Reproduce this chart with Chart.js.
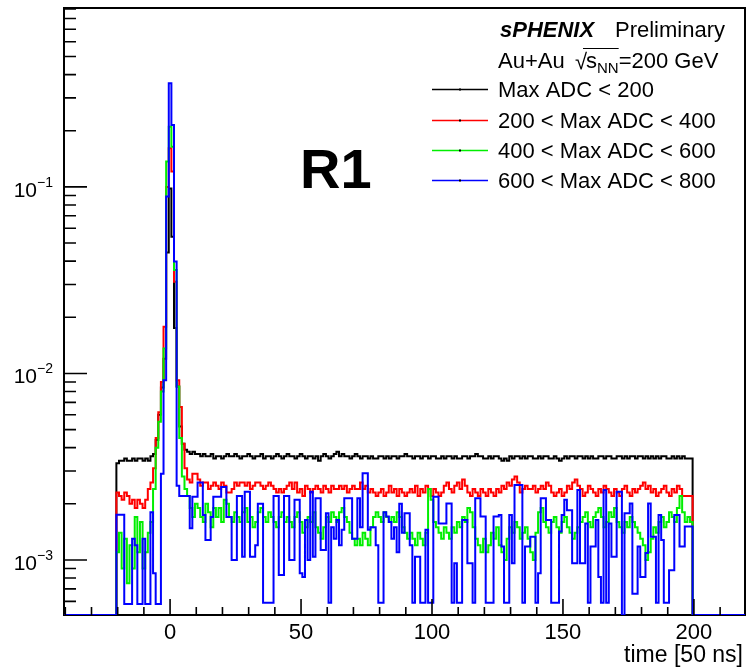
<!DOCTYPE html>
<html>
<head>
<meta charset="utf-8">
<script src="https://cdn.jsdelivr.net/npm/chart.js@4.4.1/dist/chart.umd.min.js"></script>
<style>
  html, body { margin: 0; padding: 0; background: #fff; }
</style>
</head>
<body>
<canvas id="c" width="747" height="671"></canvas>
<script>
// ---- axis setup ----
const xRange = [-40.5, 219.5];
const yRange = [5.07e-4, 0.91];
const firstBin = -20.5;     // low edge of the first filled bin (bin centre -20), 1 unit per bin
const lastEdge = 199.5;
const xTicks = [0, 50, 100, 150, 200];
const xMinorFirst = -40;
const xMinorStep = 10;
const yDecades = [1e-3, 1e-2, 1e-1];
const yExponents = ['\u22123', '\u22122', '\u22121'];

const seriesLabels = ['Max ADC < 200', '200 < Max ADC < 400', '400 < Max ADC < 600', '600 < Max ADC < 800'];
const seriesColors = ['#000000', '#ff0000', '#00ee00', '#0000ff'];

// ---- bin contents, bins -20 .. 199 ----
const maxAdc200 = [
  0.0033,0.0034,0.0034,0.0035,0.0034,0.0034,0.0035,0.0034,0.0035,0.0035,0.0034,0.0035,0.0034,0.0036,
  0.0037,0.0044,0.0060,0.0084,0.0120,0.0445,0.0980,0.0540,0.0175,0.0085,0.0052,0.0042,0.0039,0.0038,
  0.0037,0.0038,0.0037,0.0037,0.0036,0.0037,0.0036,0.0036,0.0037,0.0035,
  0.0036,0.0036,0.0035,0.0036,0.0037,0.0036,0.0036,0.0037,0.0036,0.0035,
  0.0036,0.0036,0.0037,0.0036,0.0035,0.0036,0.0036,0.0037,0.0035,0.0036,
  0.0036,0.0035,0.0036,0.0037,0.0036,0.0035,0.0036,0.0037,0.0036,0.0036,
  0.0035,0.0036,0.0037,0.0036,0.0035,0.0036,0.0036,0.0035,0.0036,0.0034,
  0.0036,0.0037,0.0036,0.0035,0.0036,0.0037,0.0038,0.0036,0.0037,0.0036,
  0.0036,0.0035,0.0036,0.0037,0.0036,0.0035,0.0036,0.0036,0.0035,0.0036,
  0.0035,0.0035,0.0036,0.0036,0.0035,0.0036,0.0035,0.0036,0.0036,0.0035,
  0.0036,0.0036,0.0037,0.0036,0.0036,0.0035,0.0036,0.0036,0.0035,0.0036,
  0.0036,0.0035,0.0036,0.0036,0.0035,0.0035,0.0036,0.0035,0.0036,0.0036,
  0.0035,0.0036,0.0035,0.0035,0.0036,0.0036,0.0035,0.0036,0.0036,0.0037,
  0.0036,0.0036,0.0035,0.0035,0.0036,0.0035,0.0036,0.0036,0.0035,0.0034,
  0.0035,0.0034,0.0036,0.0035,0.0036,0.0036,0.0035,0.0036,0.0035,0.0036,
  0.0036,0.0035,0.0035,0.0036,0.0035,0.0036,0.0036,0.0035,0.0035,0.0036,
  0.0035,0.0034,0.0035,0.0036,0.0035,0.0036,0.0036,0.0035,0.0036,0.0036,
  0.0035,0.0036,0.0035,0.0036,0.0035,0.0035,0.0036,0.0036,0.0035,0.0036,
  0.0036,0.0035,0.0035,0.0036,0.0036,0.0035,0.0036,0.0035,0.0036,0.0036,
  0.0035,0.0036,0.0036,0.0035,0.0036,0.0035,0.0036,0.0035,0.0036,0.0035,
  0.0036,0.0036,0.0035,0.0035,0.0036,0.0035,0.0036,0.0035,0.0036,0.0035,
  0.0035,0.0035
];
const maxAdc400 = [
  0.0023,0.0022,0.0021,0.0023,0.0022,0.0020,0.0021,0.0019,0.0021,0.0020,0.0019,0.0021,0.0024,0.0026,
  0.0031,0.0045,0.0062,0.0090,0.0178,0.1000,0.1610,0.1210,0.0310,0.0092,0.0066,0.0042,0.0031,0.0027,
  0.0026,0.0029,0.0029,0.0027,0.0025,0.0026,0.0026,0.0024,0.0025,0.0026,
  0.0025,0.0024,0.0026,0.0025,0.0023,0.0023,0.0024,0.0026,0.0025,0.0026,
  0.0026,0.0025,0.0026,0.0024,0.0025,0.0026,0.0026,0.0025,0.0024,0.0025,
  0.0026,0.0025,0.0024,0.0023,0.0024,0.0023,0.0024,0.0025,0.0026,0.0024,
  0.0026,0.0023,0.0024,0.0022,0.0025,0.0024,0.0023,0.0024,0.0025,0.0024,
  0.0023,0.0025,0.0024,0.0023,0.0025,0.0024,0.0024,0.0025,0.0024,0.0025,
  0.0023,0.0024,0.0025,0.0024,0.0024,0.0026,0.0024,0.0025,0.0023,0.0024,
  0.0023,0.0022,0.0023,0.0024,0.0022,0.0023,0.0025,0.0023,0.0024,0.0022,
  0.0024,0.0023,0.0022,0.0023,0.0024,0.0023,0.0025,0.0022,0.0024,0.0023,
  0.0025,0.0024,0.0022,0.0024,0.0023,0.0022,0.0023,0.0025,0.0026,0.0024,
  0.0023,0.0025,0.0026,0.0024,0.0027,0.0025,0.0023,0.0022,0.0024,0.0023,
  0.0022,0.0024,0.0023,0.0022,0.0024,0.0023,0.0022,0.0024,0.0023,0.0025,
  0.0024,0.0026,0.0025,0.0027,0.0028,0.0026,0.0023,0.0024,0.0025,0.0024,
  0.0024,0.0025,0.0023,0.0024,0.0025,0.0024,0.0026,0.0025,0.0023,0.0022,
  0.0023,0.0024,0.0022,0.0023,0.0025,0.0024,0.0026,0.0027,0.0025,0.0024,
  0.0022,0.0023,0.0025,0.0024,0.0023,0.0022,0.0024,0.0023,0.0025,0.0024,
  0.0023,0.0022,0.0024,0.0023,0.0022,0.0024,0.0025,0.0023,0.0022,0.0024,
  0.0023,0.0024,0.0025,0.0026,0.0024,0.0025,0.0023,0.0024,0.0022,0.0023,
  0.0024,0.0025,0.0023,0.0022,0.0024,0.0023,0.0025,0.0024,0.0022,0.0022,
  0.0022,0.0022
];
const maxAdc600 = [
  0.0011,0.0014,0.0009,0.0013,0.00075,0.0012,0.0009,0.0017,0.0011,0.0016,0.0009,0.0011,0.0014,0.0016,
  0.0024,0.0040,0.0055,0.0080,0.0136,0.1370,0.2100,0.1640,0.0359,0.0085,0.0045,0.0028,0.0024,0.0022,
  0.0019,0.0017,0.0020,0.0019,0.0017,0.0016,0.0020,0.0018,0.0015,0.0019,
  0.0017,0.0019,0.0016,0.0021,0.0020,0.0017,0.0016,0.0018,0.0017,0.0016,
  0.0018,0.0019,0.0016,0.0017,0.0015,0.0016,0.0018,0.0019,0.0017,0.0016,
  0.0018,0.0017,0.0016,0.0015,0.0017,0.0018,0.0016,0.0017,0.0016,0.0015,
  0.0017,0.0018,0.0016,0.0014,0.0015,0.0017,0.0016,0.0018,0.0015,0.0014,
  0.0013,0.0015,0.0017,0.0016,0.0018,0.0017,0.0016,0.0018,0.0019,0.0017,
  0.0016,0.0014,0.0013,0.0012,0.0013,0.0012,0.0014,0.0013,0.0012,0.0015,
  0.0017,0.0018,0.0017,0.0016,0.0018,0.0017,0.0016,0.0017,0.0016,0.0018,
  0.0017,0.0015,0.0014,0.0013,0.0014,0.0013,0.0012,0.0014,0.0013,0.0012,
  0.0014,0.0024,0.0021,0.0016,0.0015,0.0014,0.0013,0.0015,0.0014,0.0013,
  0.0015,0.0014,0.0016,0.0015,0.0017,0.0016,0.0019,0.0018,0.0015,0.0013,
  0.0012,0.0011,0.0013,0.0011,0.0012,0.0014,0.0013,0.0015,0.0012,0.0011,
  0.0010,0.0013,0.0015,0.0014,0.0016,0.0015,0.0013,0.0014,0.0015,0.0013,
  0.0011,0.0010,0.0014,0.0018,0.0019,0.0016,0.0015,0.0014,0.0016,0.0017,
  0.0015,0.0014,0.0016,0.0017,0.0015,0.0014,0.0013,0.0014,0.0015,0.0016,
  0.0017,0.0018,0.0016,0.0015,0.0017,0.0018,0.0019,0.0017,0.0015,0.0016,
  0.0018,0.0017,0.0019,0.0016,0.0015,0.0014,0.0016,0.0015,0.0017,0.0016,
  0.0015,0.0014,0.0013,0.0012,0.0010,0.0011,0.0013,0.0015,0.0014,0.0016,
  0.0017,0.0015,0.0016,0.0018,0.0017,0.0016,0.0019,0.0022,0.0018,0.0016,
  0.0017,0.0016
];
const maxAdc800 = [
  0.00175,0.00175,0.00175,0.00058,0.00058,0.00058,0.0013,0.0012,0.00058,0.00058,0.0013,0.00058,0.00058,0.0018,
  0.00085,0.00058,0.00058,0.0029,0.0092,0.0887,0.3600,0.2150,0.0398,0.0025,0.0022,0.0022,0.0022,0.0022,
  0.00148,0.00218,0.00218,0.0026,0.0026,0.00174,0.00128,0.00128,0.0017,0.00218,
  0.00218,0.00218,0.00246,0.00246,0.0017,0.0017,0.001,0.001,0.0022,0.0022,
  0.00104,0.00232,0.00232,0.00104,0.00104,0.0012,0.002,0.002,0.00059,0.00059,
  0.00059,0.00059,0.0022,0.0022,0.00083,0.00083,0.0022,0.0022,0.001,0.001,
  0.0021,0.0021,0.00085,0.00081,0.00164,0.001,0.00232,0.00104,0.00214,0.00214,
  0.00113,0.00113,0.00178,0.00059,0.0015,0.0013,0.00164,0.0012,0.00145,0.00214,
  0.00214,0.00214,0.0013,0.0013,0.00214,0.0015,0.00292,0.00292,0.00145,0.0015,
  0.0015,0.0012,0.00059,0.00059,0.0018,0.00171,0.0016,0.0013,0.0015,0.0011,
  0.002,0.0014,0.00178,0.00178,0.0012,0.00059,0.00104,0.00104,0.00059,0.00059,
  0.00145,0.00059,0.00059,0.00218,0.00218,0.00157,0.00157,0.00157,0.00201,0.00201,
  0.00059,0.00096,0.00059,0.00059,0.00164,0.00164,0.00096,0.00096,0.00059,0.00214,
  0.00214,0.00171,0.00171,0.00059,0.00059,0.00059,0.00171,0.00171,0.00174,0.00118,
  0.00059,0.00059,0.00174,0.00096,0.00252,0.00252,0.00252,0.00059,0.00118,0.00118,
  0.00133,0.00133,0.00059,0.00085,0.00214,0.00214,0.00164,0.00164,0.00059,0.00059,
  0.00059,0.00142,0.00174,0.0021,0.00185,0.00185,0.00096,0.00096,0.00237,0.00096,
  0.00096,0.00157,0.00059,0.00118,0.00118,0.00164,0.00081,0.00059,0.00237,0.00059,
  0.00157,0.00104,0.00104,0.00232,0.00232,0,0.00178,0.00178,0.00201,0.00066,
  0.00066,0.00118,0.00081,0.00081,0.00109,0.00201,0.00133,0.00133,0.00059,0.00174,
  0.00128,0.00059,0.00059,0.00088,0.00088,0.00174,0.00174,0.00118,0.00118,0.00151,
  0.00151,0.00151
];
const allSeries = [maxAdc200, maxAdc400, maxAdc600, maxAdc800];

const FONT = '"Liberation Sans", Arial, Helvetica, sans-serif';

// histogram outline: one point per bin low edge, empty bins sit on the axis floor
function histPoints(vals) {
  const floor = yRange[0];
  const pts = [{ x: xRange[0], y: floor }];
  vals.forEach((v, i) => pts.push({ x: firstBin + i, y: v > 0 ? v : floor }));
  pts.push({ x: lastEdge, y: floor });
  pts.push({ x: xRange[1], y: floor });
  return pts;
}

// ---- frame under the histograms, ticks and text over them ----
const rootStyle = {
  id: 'rootStyle',
  beforeDatasetsDraw(chart) {
    const { ctx, chartArea: a } = chart;
    ctx.save();
    ctx.strokeStyle = '#000';
    ctx.lineWidth = 2;
    ctx.strokeRect(a.left, a.top, a.right - a.left, a.bottom - a.top);
    ctx.restore();
  },
  afterDatasetsDraw(chart) {
    const { ctx, chartArea: a, scales: { x, y } } = chart;
    ctx.save();
    ctx.strokeStyle = '#000';
    ctx.lineWidth = 1.6;
    ctx.beginPath();
    for (let v = xMinorFirst; v <= xRange[1]; v += xMinorStep) {
      const px = x.getPixelForValue(v);
      const len = xTicks.includes(v) ? 16 : 8;
      ctx.moveTo(px, a.bottom);
      ctx.lineTo(px, a.bottom - len);
    }
    for (let e = -4; e <= 0; e++) {
      for (let m = 1; m <= 9; m++) {
        const v = m * Math.pow(10, e);
        if (v < y.min || v > y.max) continue;
        const py = y.getPixelForValue(v);
        ctx.moveTo(a.left, py);
        ctx.lineTo(a.left + (m === 1 ? 23 : 12), py);
      }
    }
    ctx.stroke();

    // y labels 10^n
    ctx.fillStyle = '#000';
    ctx.textBaseline = 'alphabetic';
    yDecades.forEach((v, i) => {
      const py = y.getPixelForValue(v);
      ctx.font = '21px ' + FONT;
      ctx.textAlign = 'right';
      ctx.fillText('10', 37, py + 10);
      ctx.font = '14px ' + FONT;
      ctx.textAlign = 'left';
      ctx.fillText(yExponents[i], 37, py);
    });

    // x title
    ctx.font = '23px ' + FONT;
    ctx.textAlign = 'right';
    ctx.fillText('time [50 ns]', 743, 662);

    // big panel tag
    ctx.font = 'bold 56px ' + FONT;
    ctx.textAlign = 'left';
    ctx.fillText('R1', 300, 188);

    // header
    ctx.font = 'italic bold 22px ' + FONT;
    ctx.fillText('sPHENIX', 500, 37);
    ctx.font = '22px ' + FONT;
    ctx.fillText('Preliminary', 615, 37);
    ctx.fillText('Au+Au', 498, 68);
    ctx.fillText('\u221A', 575, 69);
    const sx = 586;
    ctx.fillText('s', sx, 68);
    const sw = ctx.measureText('s').width;
    ctx.font = '15px ' + FONT;
    ctx.fillText('NN', sx + sw, 73);
    const nw = ctx.measureText('NN').width;
    ctx.font = '22px ' + FONT;
    ctx.fillText('=200 GeV', sx + sw + nw, 68);
    ctx.lineWidth = 1.2;
    ctx.beginPath();
    ctx.moveTo(583, 48.5);
    ctx.lineTo(sx + sw + nw, 48.5);
    ctx.stroke();

    // legend entries
    const rowBase = [97, 128, 158, 188];
    chart.data.datasets.forEach((ds, i) => {
      const ly = rowBase[i] - 7.5;
      ctx.strokeStyle = ds.borderColor;
      ctx.lineWidth = 1.5;
      ctx.beginPath();
      ctx.moveTo(432, ly);
      ctx.lineTo(488, ly);
      ctx.stroke();
      ctx.fillStyle = '#000';
      ctx.fillRect(459, ly - 1, 2, 2);
      ctx.font = '22px ' + FONT;
      ctx.fillText(ds.label, 498, rowBase[i]);
    });
    ctx.restore();
  }
};

new Chart(document.getElementById('c').getContext('2d'), {
  type: 'line',
  data: {
    datasets: allSeries.map((vals, i) => ({
      label: seriesLabels[i],
      data: histPoints(vals),
      borderColor: seriesColors[i],
      borderWidth: 2,
      stepped: true,
      pointRadius: 0,
      fill: false,
      order: allSeries.length - i
    }))
  },
  options: {
    responsive: false,
    animation: false,
    layout: { padding: { left: 0, right: 2, top: 8, bottom: 0 } },
    plugins: { legend: { display: false }, tooltip: { enabled: false } },
    scales: {
      x: {
        type: 'linear',
        bounds: 'data',
        min: xRange[0],
        max: xRange[1],
        afterBuildTicks: s => { s.ticks = xTicks.map(v => ({ value: v })); },
        afterFit: s => { s.height = 56; },
        grid: { display: false, drawTicks: false },
        border: { display: false },
        ticks: { color: '#000', padding: 5, maxRotation: 0, font: { size: 22, family: FONT } }
      },
      y: {
        type: 'logarithmic',
        bounds: 'data',
        min: yRange[0],
        max: yRange[1],
        afterBuildTicks: s => { s.ticks = yDecades.map(v => ({ value: v })); },
        afterFit: s => { s.width = 64; },
        grid: { display: false, drawTicks: false },
        border: { display: false },
        ticks: { display: false }
      }
    }
  },
  plugins: [rootStyle]
});
</script>
</body>
</html>
